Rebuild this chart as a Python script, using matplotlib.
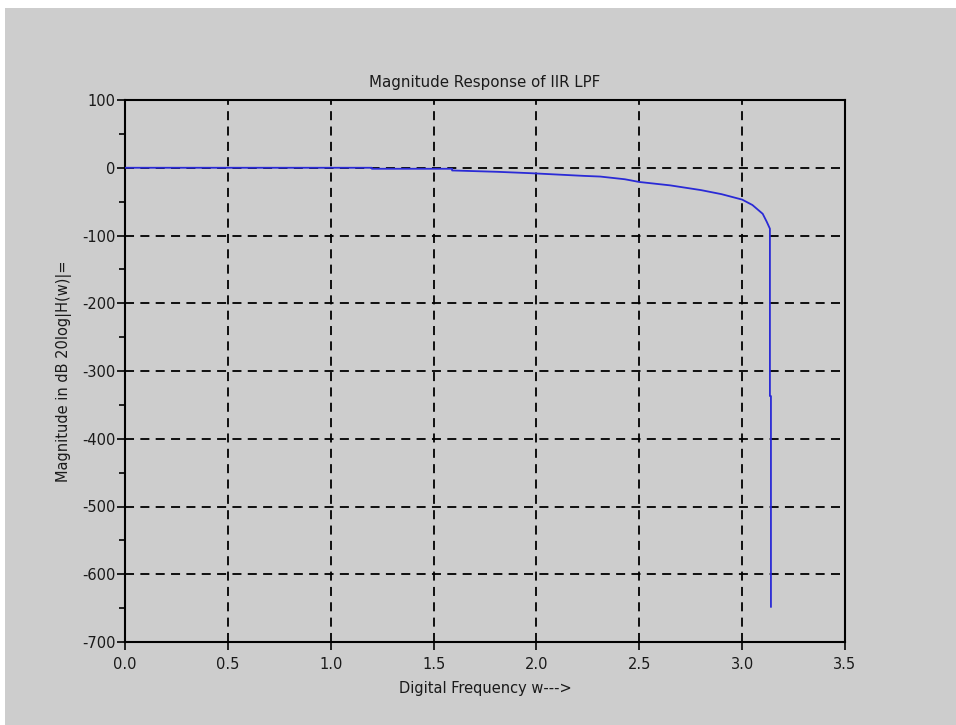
import matplotlib.pyplot as plt
import matplotlib.patches as patches
from matplotlib.ticker import MultipleLocator

# digital frequency (rad/sample) and magnitude (dB)
freq = [0.0, 0.5, 1.0, 1.2, 1.2, 1.4, 1.59, 1.59, 1.81, 1.97, 2.1, 2.23, 2.31,
        2.43, 2.5, 2.65, 2.8, 2.9, 3.0, 3.05, 3.1, 3.12, 3.135, 3.135, 3.14, 3.14]
mag_db = [0.0, 0.0, 0.0, 0.0, -1.5, -1.5, -1.5, -4.0, -6.0, -8.0, -10.0, -12.0, -13.0,
          -17.0, -21.0, -26.0, -33.0, -39.0, -47.0, -55.0, -68.0, -80.0, -90.0, -337.0, -337.0, -648.0]

x_ticks = [0.0, 0.5, 1.0, 1.5, 2.0, 2.5, 3.0, 3.5]
y_ticks = [100, 0, -100, -200, -300, -400, -500, -600, -700]

bg = '#cdcdcd'

fig = plt.figure(figsize=(9.56, 7.25), dpi=100, facecolor='white')
# grey canvas with thin white strip on top/left, like the screenshot
canvas = patches.Rectangle((5 / 956, 0), 1, 1 - 8 / 725,
                           transform=fig.transFigure,
                           facecolor=bg, edgecolor='none', zorder=-10)
fig.add_artist(canvas)

ax = fig.add_axes([125 / 956, 1 - 642 / 725, 720 / 956, 542 / 725])
ax.set_facecolor(bg)

ax.plot(freq, mag_db, color='#2a2ad6', linewidth=1.3, zorder=3)

ax.set_xlim(0, 3.5)
ax.set_ylim(-700, 100)
ax.set_xticks(x_ticks)
ax.set_xticklabels([f"{t:.1f}" for t in x_ticks])
ax.set_yticks(y_ticks)
ax.set_yticklabels([str(t) for t in y_ticks])
ax.yaxis.set_minor_locator(MultipleLocator(50))

ax.grid(True, which='major', color='black', linestyle=(0, (5, 3.5)), linewidth=1.3)
ax.tick_params(which='major', direction='out', length=6, width=1.2,
               labelsize=10.5, colors='black')
ax.tick_params(axis='y', which='major', pad=1)
ax.tick_params(axis='x', which='major', pad=5)
ax.tick_params(which='minor', direction='out', length=4, width=1.2)
for lab in ax.get_xticklabels() + ax.get_yticklabels():
    lab.set_family('DejaVu Sans')
    lab.set_color('#1a1a1a')

for s in ax.spines.values():
    s.set_linewidth(1.5)
    s.set_color('black')

ax.set_title('Magnitude Response of IIR LPF', fontsize=10.8, color='#1a1a1a', pad=9)
ax.set_xlabel('Digital Frequency w--->', fontsize=10.5, color='#1a1a1a', labelpad=6)
ax.set_ylabel('Magnitude in dB 20log|H(w)|=', fontsize=10.5, color='#1a1a1a', labelpad=7)

fig.savefig('out.png', dpi=100, facecolor=fig.get_facecolor())
